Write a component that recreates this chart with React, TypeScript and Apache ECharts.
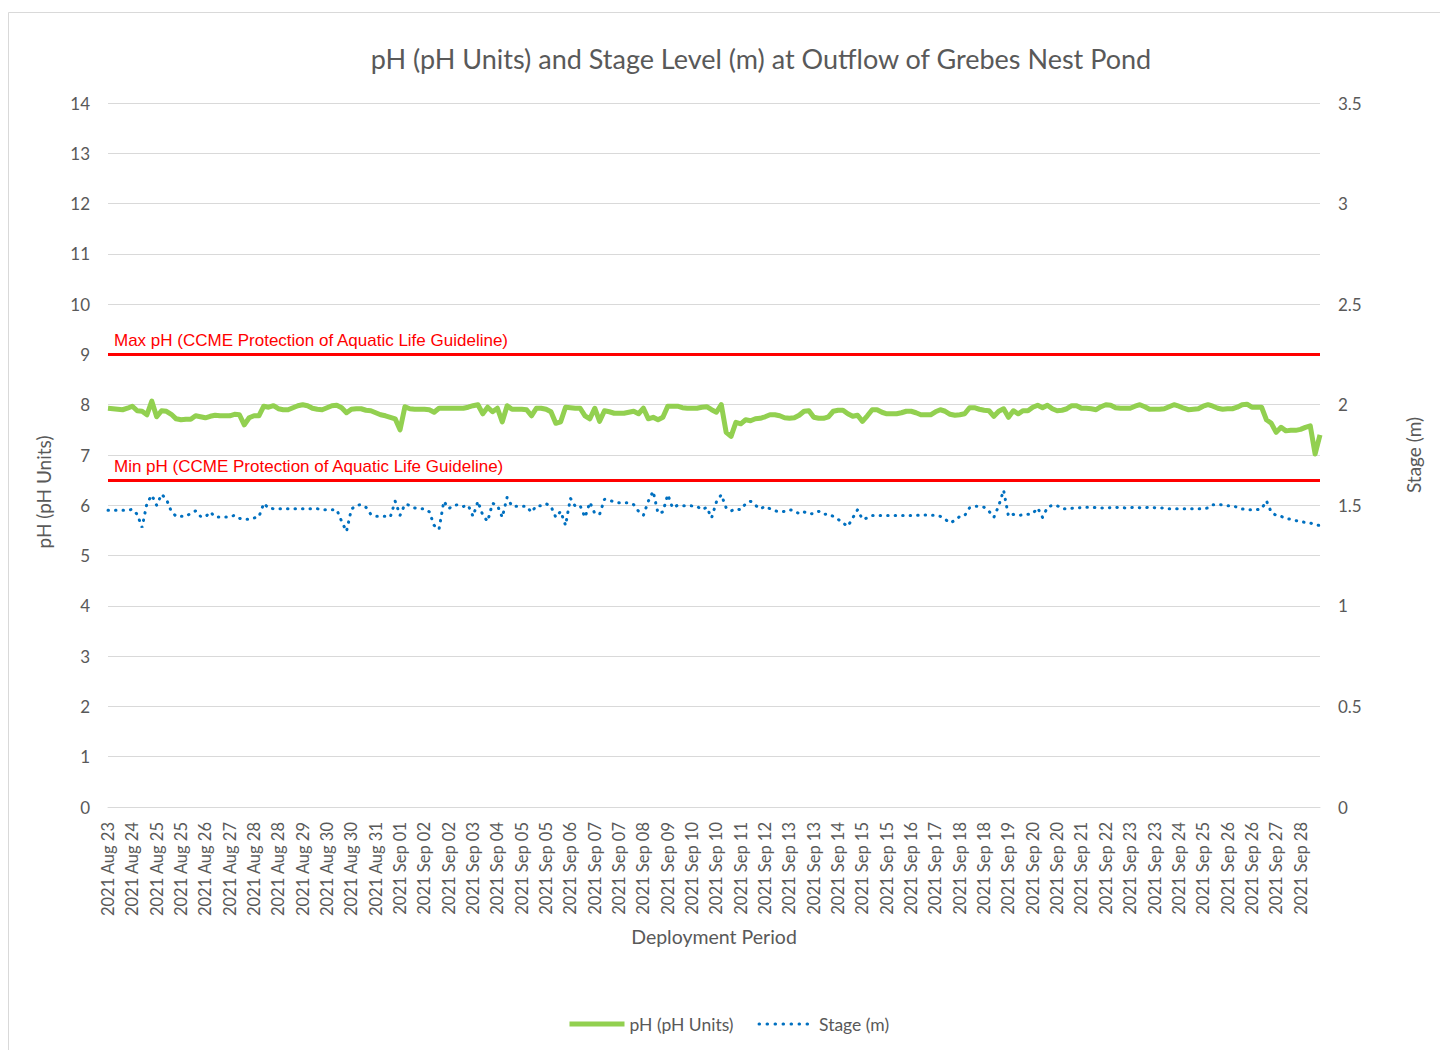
import React, { useEffect, useRef } from "react";
import * as echarts from "echarts";

const titleText = "pH (pH Units) and Stage Level (m) at Outflow of Grebes Nest Pond";
const xAxisTitle = "Deployment Period";
const leftAxisTitle = "pH (pH Units)";
const rightAxisTitle = "Stage (m)";
const phSeriesName = "pH (pH Units)";
const stageSeriesName = "Stage (m)";
const maxLabel = "Max pH (CCME Protection of Aquatic Life Guideline)";
const minLabel = "Min pH (CCME Protection of Aquatic Life Guideline)";
const maxPh = 9;
const minPh = 6.5;

const tickLabels = [
  "2021 Aug 23", "2021 Aug 24", "2021 Aug 25", "2021 Aug 25", "2021 Aug 26", "2021 Aug 27",
  "2021 Aug 28", "2021 Aug 28", "2021 Aug 29", "2021 Aug 30", "2021 Aug 30", "2021 Aug 31",
  "2021 Sep 01", "2021 Sep 02", "2021 Sep 02", "2021 Sep 03", "2021 Sep 04", "2021 Sep 05",
  "2021 Sep 05", "2021 Sep 06", "2021 Sep 07", "2021 Sep 07", "2021 Sep 08", "2021 Sep 09",
  "2021 Sep 10", "2021 Sep 10", "2021 Sep 11", "2021 Sep 12", "2021 Sep 13", "2021 Sep 13",
  "2021 Sep 14", "2021 Sep 15", "2021 Sep 15", "2021 Sep 16", "2021 Sep 17", "2021 Sep 18",
  "2021 Sep 18", "2021 Sep 19", "2021 Sep 20", "2021 Sep 20", "2021 Sep 21", "2021 Sep 22",
  "2021 Sep 23", "2021 Sep 23", "2021 Sep 24", "2021 Sep 25", "2021 Sep 26", "2021 Sep 26",
  "2021 Sep 27", "2021 Sep 28",
];
const pointsPerLabel = 5;

const phValues = [
  7.93, 7.92, 7.91, 7.90, 7.93, 7.97, 7.88, 7.87, 7.80, 8.07,
  7.76, 7.88, 7.87, 7.81, 7.72, 7.70, 7.71, 7.71, 7.78, 7.76,
  7.74, 7.77, 7.79, 7.78, 7.78, 7.78, 7.81, 7.80, 7.60, 7.74,
  7.78, 7.78, 7.97, 7.95, 7.98, 7.92, 7.90, 7.90, 7.94, 7.98,
  8.00, 7.98, 7.93, 7.91, 7.90, 7.94, 7.98, 7.99, 7.94, 7.84,
  7.91, 7.92, 7.92, 7.89, 7.88, 7.84, 7.80, 7.78, 7.75, 7.72,
  7.50, 7.96, 7.92, 7.91, 7.91, 7.91, 7.90, 7.85, 7.93, 7.93,
  7.93, 7.93, 7.93, 7.93, 7.95, 7.98, 8.00, 7.82, 7.95, 7.86,
  7.93, 7.66, 7.98, 7.91, 7.91, 7.91, 7.90, 7.78, 7.93, 7.93,
  7.91, 7.86, 7.63, 7.66, 7.95, 7.94, 7.93, 7.93, 7.78, 7.72,
  7.93, 7.67, 7.88, 7.86, 7.83, 7.83, 7.83, 7.85, 7.87, 7.82,
  7.93, 7.72, 7.75, 7.70, 7.75, 7.97, 7.97, 7.97, 7.94, 7.93,
  7.93, 7.93, 7.95, 7.96, 7.90, 7.85, 8.00, 7.45, 7.37, 7.65,
  7.62, 7.70, 7.68, 7.72, 7.73, 7.76, 7.80, 7.80, 7.78, 7.74,
  7.73, 7.74, 7.79, 7.87, 7.88, 7.75, 7.73, 7.73, 7.76, 7.87,
  7.89, 7.89, 7.82, 7.77, 7.79, 7.67, 7.78, 7.90, 7.90, 7.85,
  7.82, 7.82, 7.82, 7.84, 7.87, 7.87, 7.84, 7.80, 7.80, 7.80,
  7.86, 7.90, 7.87, 7.81, 7.79, 7.80, 7.82, 7.94, 7.94, 7.91,
  7.89, 7.88, 7.77, 7.87, 7.92, 7.75, 7.88, 7.82, 7.88, 7.88,
  7.95, 7.99, 7.94, 7.99, 7.92, 7.88, 7.89, 7.92, 7.98, 7.98,
  7.93, 7.93, 7.92, 7.90, 7.96, 8.00, 7.99, 7.94, 7.93, 7.93,
  7.93, 7.97, 8.00, 7.96, 7.91, 7.91, 7.91, 7.92, 7.96, 8.00,
  7.97, 7.93, 7.90, 7.91, 7.92, 7.97, 8.00, 7.97, 7.93, 7.91,
  7.92, 7.92, 7.95, 8.00, 8.01, 7.95, 7.95, 7.95, 7.70, 7.63,
  7.45, 7.55, 7.48, 7.49, 7.49, 7.51, 7.55, 7.58, 7.02, 7.40,
];

const stageValues = [
  1.475, 1.475, 1.475, 1.475, 1.475, 1.48, 1.455, 1.39, 1.51, 1.55,
  1.50, 1.555, 1.53, 1.47, 1.445, 1.445, 1.445, 1.46, 1.472, 1.445,
  1.442, 1.467, 1.442, 1.442, 1.442, 1.442, 1.45, 1.435, 1.43, 1.43,
  1.437, 1.442, 1.51, 1.485, 1.483, 1.483, 1.483, 1.483, 1.483, 1.483,
  1.483, 1.483, 1.483, 1.483, 1.478, 1.478, 1.478, 1.478, 1.42, 1.37,
  1.48, 1.50, 1.503, 1.49, 1.455, 1.445, 1.445, 1.445, 1.442, 1.52,
  1.45, 1.505, 1.50, 1.487, 1.483, 1.483, 1.468, 1.40, 1.38, 1.52,
  1.483, 1.50, 1.503, 1.494, 1.50, 1.445, 1.52, 1.45, 1.42, 1.51,
  1.50, 1.44, 1.54, 1.495, 1.495, 1.495, 1.495, 1.465, 1.498, 1.498,
  1.508, 1.495, 1.44, 1.47, 1.40, 1.535, 1.495, 1.498, 1.44, 1.515,
  1.46, 1.455, 1.53, 1.525, 1.517, 1.512, 1.512, 1.512, 1.503, 1.47,
  1.45, 1.52, 1.57, 1.46, 1.467, 1.553, 1.487, 1.50, 1.498, 1.498,
  1.497, 1.495, 1.478, 1.49, 1.437, 1.517, 1.553, 1.487, 1.472, 1.482,
  1.478, 1.508, 1.52, 1.50, 1.482, 1.495, 1.483, 1.473, 1.467, 1.47,
  1.478, 1.473, 1.458, 1.467, 1.457, 1.459, 1.47, 1.455, 1.457, 1.445,
  1.43, 1.412, 1.395, 1.437, 1.478, 1.43, 1.437, 1.449, 1.449, 1.449,
  1.449, 1.449, 1.449, 1.449, 1.449, 1.449, 1.449, 1.452, 1.452, 1.45,
  1.45, 1.445, 1.43, 1.412, 1.425, 1.445, 1.449, 1.487, 1.495, 1.495,
  1.49, 1.47, 1.44, 1.498, 1.575, 1.445, 1.455, 1.45, 1.452, 1.455,
  1.459, 1.487, 1.44, 1.49, 1.50, 1.498, 1.483, 1.483, 1.485, 1.487,
  1.488, 1.49, 1.49, 1.488, 1.487, 1.487, 1.488, 1.49, 1.488, 1.487,
  1.488, 1.49, 1.488, 1.488, 1.49, 1.488, 1.487, 1.487, 1.483, 1.483,
  1.483, 1.483, 1.483, 1.483, 1.482, 1.483, 1.487, 1.503, 1.503, 1.502,
  1.498, 1.498, 1.49, 1.482, 1.478, 1.478, 1.478, 1.482, 1.522, 1.465,
  1.45, 1.445, 1.435, 1.43, 1.424, 1.419, 1.415, 1.412, 1.404, 1.399,
];

const textColor = "#595959";
const gridColor = "#d9d9d9";
const phColor = "#92d050";
const stageColor = "#0070c0";
const font = "Lato";

export default function App() {
  const ref = useRef<HTMLDivElement>(null);

  useEffect(() => {
    if (!ref.current) return;
    const chart = echarts.init(ref.current, null, { renderer: "svg" });
    const categories = phValues.map(
      (_, i) => tickLabels[Math.floor(i / pointsPerLabel)] ?? ""
    );

    chart.setOption({
      animation: false,
      backgroundColor: "#ffffff",
      textStyle: { fontFamily: font },
      title: {
        text: titleText,
        left: 756,
        top: 40,
        textAlign: "center",
        textStyle: { fontSize: 27, fontWeight: "normal", color: textColor, fontFamily: font },
      },
      grid: { left: 108, right: 120, top: 103, bottom: 243, containLabel: false },
      legend: {
        data: [
          { name: phSeriesName, lineStyle: { width: 5, color: phColor } },
          { name: stageSeriesName, lineStyle: { width: 3, color: stageColor, type: [0.5, 7.5], cap: "round" } },
        ],
        left: 562,
        top: 1010,
        itemWidth: 55,
        itemHeight: 14,
        itemGap: 24,
        itemStyle: { opacity: 0, borderWidth: 0 },
        textStyle: { fontSize: 17.5, color: textColor, fontFamily: font },
      },
      xAxis: {
        type: "category",
        data: categories,
        boundaryGap: false,
        name: xAxisTitle,
        nameLocation: "middle",
        nameGap: 119,
        nameTextStyle: { fontSize: 19.5, color: textColor, fontFamily: font },
        axisLine: { show: true, lineStyle: { color: gridColor } },
        axisTick: { show: false },
        splitLine: { show: false },
        axisLabel: {
          interval: pointsPerLabel - 1,
          rotate: 90,
          margin: 15,
          fontSize: 16.5,
          color: textColor,
          fontFamily: font,
        },
      },
      yAxis: [
        {
          type: "value",
          min: 0,
          max: 14,
          interval: 1,
          axisLine: { show: false },
          axisTick: { show: false },
          axisLabel: { fontSize: 17, color: textColor, margin: 18, fontFamily: font },
          splitLine: { show: true, lineStyle: { color: gridColor, width: 1 } },
        },
        {
          type: "value",
          position: "right",
          min: 0,
          max: 3.5,
          interval: 0.5,
          name: rightAxisTitle,
          nameLocation: "middle",
          nameGap: 84,
          nameTextStyle: { fontSize: 19, color: textColor, fontFamily: font },
          axisLine: { show: false },
          axisTick: { show: false },
          axisLabel: { fontSize: 17, color: textColor, margin: 18, fontFamily: font },
          splitLine: { show: false },
        },
      ],
      series: [
        {
          name: phSeriesName,
          type: "line",
          yAxisIndex: 0,
          data: phValues,
          symbol: "none",
          showSymbol: false,
          z: 3,
          lineStyle: { color: phColor, width: 5, join: "round" },
          itemStyle: { color: phColor },
          markLine: {
            silent: true,
            symbol: ["none", "none"],
            lineStyle: { color: "#ff0000", width: 3, type: "solid" },
            label: {
              show: true,
              position: "insideStartTop",
              color: "#ff0000",
              fontFamily: "Liberation Sans",
              fontSize: 17,
              distance: [6, 5],
            },
            emphasis: { disabled: true },
            data: [
              { yAxis: maxPh, label: { formatter: maxLabel } },
              { yAxis: minPh, label: { formatter: minLabel } },
            ],
          },
        },
        {
          name: stageSeriesName,
          type: "line",
          yAxisIndex: 1,
          data: stageValues,
          symbol: "none",
          showSymbol: false,
          z: 2,
          lineStyle: { color: stageColor, width: 3, type: [0.5, 7], cap: "round" },
          itemStyle: { color: stageColor },
        },
      ],
      graphic: [
        {
          type: "rect",
          silent: true,
          z: -10,
          shape: { x: 8.5, y: 12.5, width: 1500, height: 1100 },
          style: { fill: "none", stroke: gridColor, lineWidth: 1 },
        },
        {
          type: "text",
          x: 43,
          y: 492,
          rotation: Math.PI / 2,
          style: {
            text: leftAxisTitle,
            fill: textColor,
            fontSize: 19,
            fontFamily: font,
            align: "center",
            verticalAlign: "middle",
            textAlign: "center",
            textVerticalAlign: "middle",
          },
        },
      ],
    });

    return () => chart.dispose();
  }, []);

  return (
    <div
      ref={ref}
      style={{ position: "absolute", left: 0, top: 0, width: 1440, height: 1050, background: "#fff" }}
    />
  );
}
